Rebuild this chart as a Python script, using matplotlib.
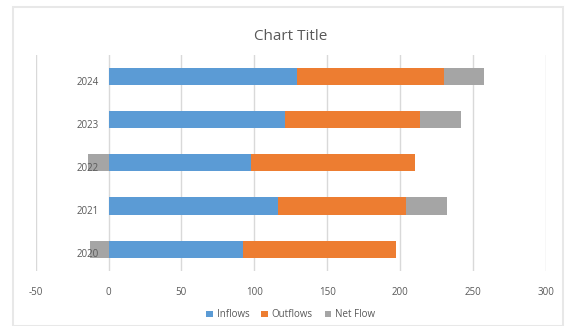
import matplotlib.pyplot as plt
import matplotlib.transforms as mtransforms
from matplotlib.patches import Rectangle

years = ["2020", "2021", "2022", "2023", "2024"]
inflows = [92, 116, 98, 121, 129]
outflows = [105, 88, 112, 93, 101]
net_flow = [-13, 28, -14, 28, 28]

blue = "#5b9bd5"
orange = "#ed7d31"
gray = "#a5a5a5"
text_color = "#595959"

plt.rcParams["font.family"] = ["Open Sans", "DejaVu Sans"]
plt.rcParams["axes.unicode_minus"] = False

fig = plt.figure(figsize=(5.69, 3.26), dpi=100)
ax = fig.add_axes([0.0627, 0.1696, 0.8963, 0.6617])

pos = list(range(len(years)))
h = 0.4

# Excel-style stacking: positives pile up from 0, negatives go left from 0
ax.barh(pos, inflows, height=h, color=blue, label="Inflows", zorder=3)
ax.barh(pos, outflows, height=h, left=inflows, color=orange, label="Outflows", zorder=3)
net_left = []
for i in range(len(years)):
    if net_flow[i] >= 0:
        net_left.append(inflows[i] + outflows[i])
    else:
        net_left.append(0)
ax.barh(pos, net_flow, height=h, left=net_left, color=gray, label="Net Flow", zorder=3)

ax.set_xlim(-50, 300)
ax.set_ylim(-0.5, 4.5)
ax.set_xticks(range(-50, 301, 50))
ax.set_yticks(pos)
ax.set_yticklabels(years)

ax.grid(axis="x", color="#d9d9d9", linewidth=1)
ax.set_axisbelow(True)
# year labels sit on top of the negative bars, like in Excel
ax.yaxis.set_zorder(5)
for s in ["top", "right", "bottom"]:
    ax.spines[s].set_visible(False)
ax.spines["left"].set_position(("data", 0))
ax.spines["left"].set_visible(False)
ax.tick_params(axis="both", length=0, labelsize=7, labelcolor=text_color)
ax.tick_params(axis="y", pad=7)
ax.tick_params(axis="x", pad=12)

# labels in the original sit a few pixels below the bar centres
shift = mtransforms.ScaledTranslation(0, -4 / 100, fig.dpi_scale_trans)
for lbl in ax.get_yticklabels():
    lbl.set_transform(lbl.get_transform() + shift)

fig.text(0.51, 0.887, "Chart Title", ha="center", va="center", fontsize=11, color=text_color)

ax.legend(loc="center", bbox_to_anchor=(0.5, -0.205), ncol=3, frameon=False,
          fontsize=7, labelcolor=text_color, handlelength=0.7, handleheight=0.7,
          handletextpad=0.4, columnspacing=1.2)

fig.patches.append(Rectangle((13 / 569, 0.0), 0.99 - 13 / 569, 1 - 7 / 326,
                             transform=fig.transFigure, fill=False,
                             edgecolor="#e8e8e8", linewidth=1.5))

fig.savefig("out.png", dpi=100)
